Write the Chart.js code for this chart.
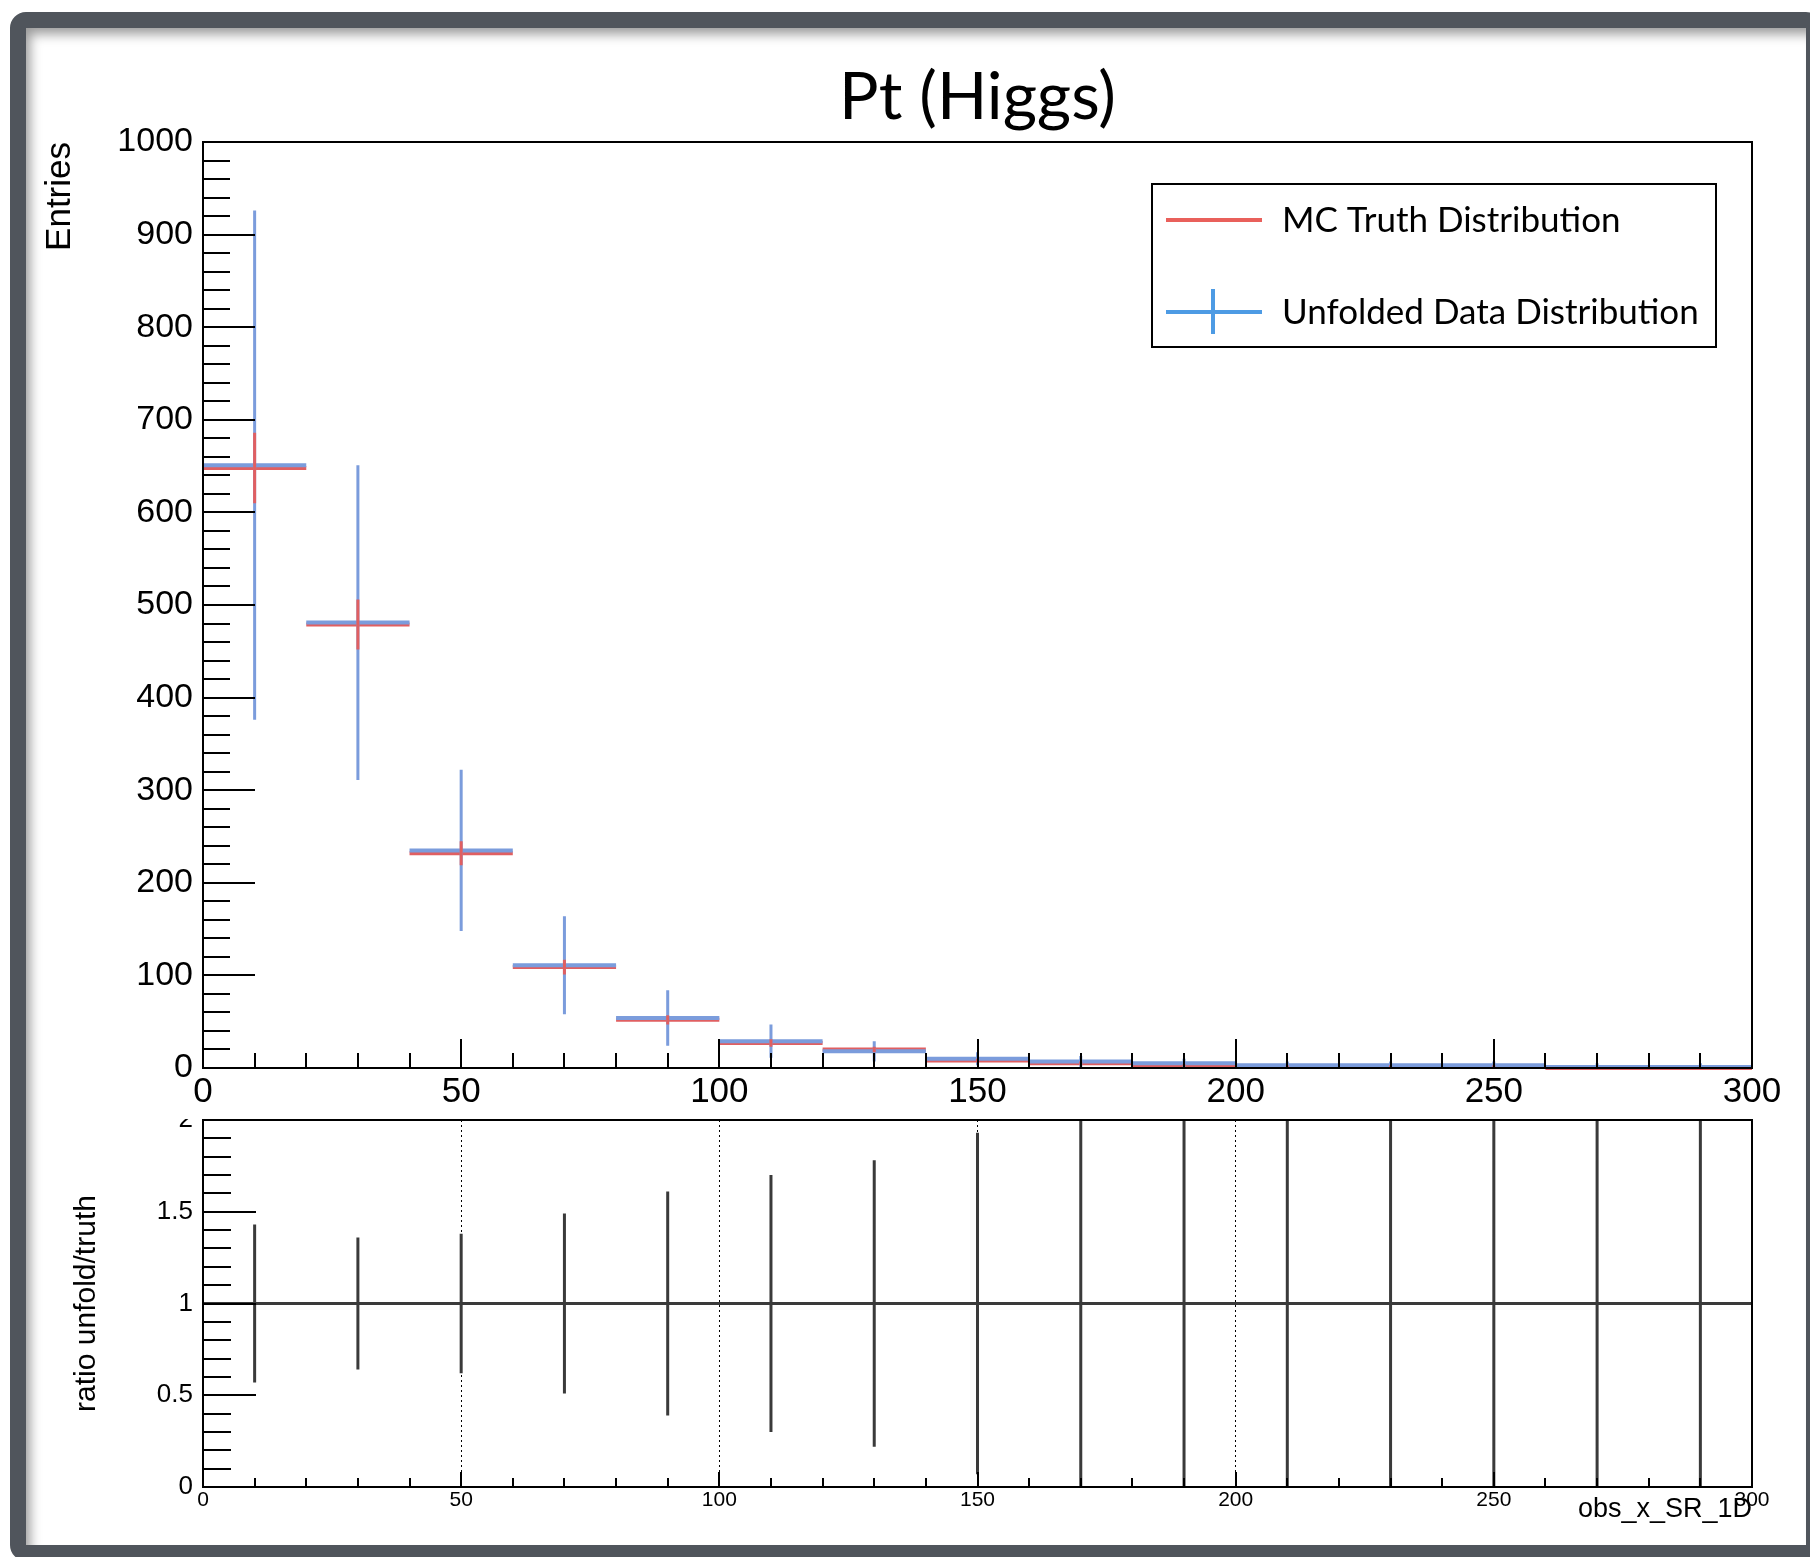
<!DOCTYPE html>
<html>
<head>
<meta charset="utf-8">
<title>Pt (Higgs)</title>
<script src="https://cdn.jsdelivr.net/npm/chart.js@4.4.1/dist/chart.umd.min.js"></script>
<style>
  html, body { margin: 0; padding: 0; background: #fff; }
  body { width: 1810px; height: 1557px; overflow: hidden; position: relative; }
  .frame {
    position: absolute; left: 10px; top: 12px; width: 1812px; height: 1549px;
    box-sizing: border-box; border: 16px solid #50555c; border-radius: 16px;
    background: #fff; box-shadow: inset 7px 9px 12px -3px rgba(0, 0, 0, 0.4);
  }
  canvas { position: absolute; left: 0; }
  #topChart { top: 0; }
  #ratioChart { top: 1119px; }
</style>
</head>
<body>
<div class="frame"></div>
<canvas id="topChart" width="1810" height="1119"></canvas>
<canvas id="ratioChart" width="1810" height="438"></canvas>
<script>
// bins of 20 GeV from 0 to 300
const BIN_CENTERS = [10, 30, 50, 70, 90, 110, 130, 150, 170, 190, 210, 230, 250, 270, 290];
const BIN_HALF_WIDTH = 10;

const TRUTH = [648, 479, 232, 109, 52, 27, 20, 8, 5, 3, 2, 2, 2, 0, 0];
const TRUTH_ERR = [38, 27, 13, 8, 5, 4, 3, 2, 2, 1, 1, 1, 1, 1, 1];
const UNFOLDED = [651, 481, 235, 111, 54, 29, 18, 10, 7, 5, 3, 3, 3, 1, 1];
const UNFOLDED_ERR = [275, 170, 87, 53, 30, 18, 11, 7, 6, 5, 4, 4, 4, 4, 4];

const RATIO = [1, 1, 1, 1, 1, 1, 1, 1, 1, 1, 1, 1, 1, 1, 1];
const RATIO_ERR = [0.43, 0.36, 0.38, 0.49, 0.61, 0.70, 0.78, 0.93, 1.2, 1.4, 1.6, 1.7, 1.7, 2.5, 2.5];

const LEGEND_LABELS = ["MC Truth Distribution", "Unfolded Data Distribution"];
const TITLE = "Pt (Higgs)";

const RED = "#e05f61";
const BLUE = "#7b9cdc";
const RATIO_GREY = "#3a3a3a";
const LEGEND_RED = "#e9605b";
const LEGEND_BLUE = "#4d9be4";
const AXIS_FONT = "'Liberation Sans', Arial, sans-serif";
const TITLE_FONT = "Lato, 'Noto Sans', sans-serif";

// horizontal bar across each bin, broken between bins
function binSegments(values) {
  const pts = [];
  BIN_CENTERS.forEach((c, i) => {
    pts.push({ x: c - BIN_HALF_WIDTH, y: values[i] });
    pts.push({ x: c + BIN_HALF_WIDTH, y: values[i] });
    pts.push({ x: c + BIN_HALF_WIDTH, y: null });
  });
  return pts;
}

// vertical error bar at each bin centre
function errorSegments(values, errors) {
  const pts = [];
  BIN_CENTERS.forEach((c, i) => {
    pts.push({ x: c, y: values[i] - errors[i] });
    pts.push({ x: c, y: values[i] + errors[i] });
    pts.push({ x: c, y: null });
  });
  return pts;
}

function lineSet(label, data, color, width, order, clip) {
  return {
    label: label,
    data: data,
    borderColor: color,
    backgroundColor: color,
    borderWidth: width,
    pointRadius: 0,
    pointHoverRadius: 0,
    fill: false,
    tension: 0,
    spanGaps: false,
    order: order,
    clip: clip,
  };
}

// ROOT style ticks drawn inward from the axes, plus the closed frame
const rootAxes = {
  id: "rootAxes",
  afterDraw(chart, args, opts) {
    const { ctx, chartArea: a, scales } = chart;
    const x = scales.x;
    const y = scales.y;
    ctx.save();
    ctx.strokeStyle = "#000";
    ctx.lineWidth = 2;
    ctx.beginPath();
    const nx = Math.round((x.max - x.min) / opts.xMinor);
    const perMajorX = Math.round(opts.xMajor / opts.xMinor);
    for (let i = 1; i < nx; i++) {
      const px = Math.round(x.getPixelForValue(x.min + i * opts.xMinor));
      const len = i % perMajorX === 0 ? opts.xLen[1] : opts.xLen[0];
      ctx.moveTo(px, a.bottom);
      ctx.lineTo(px, a.bottom - len);
    }
    const ny = Math.round((y.max - y.min) / opts.yMinor);
    const perMajorY = Math.round(opts.yMajor / opts.yMinor);
    for (let i = 1; i < ny; i++) {
      const py = Math.round(y.getPixelForValue(y.min + i * opts.yMinor));
      const len = i % perMajorY === 0 ? opts.yLen[1] : opts.yLen[0];
      ctx.moveTo(a.left, py);
      ctx.lineTo(a.left + len, py);
    }
    ctx.stroke();
    ctx.strokeRect(a.left, a.top, a.right - a.left, a.bottom - a.top);
    ctx.restore();
  },
};

// boxed legend in the upper right, like the ROOT TLegend
const boxLegend = {
  id: "boxLegend",
  afterDraw(chart, args, opts) {
    if (!opts.show) return;
    const { ctx, chartArea: a } = chart;
    const right = a.right - 36;
    const top = a.top + 42;
    const width = 564;
    const height = 163;
    const left = right - width;

    ctx.save();
    ctx.lineWidth = 2;
    ctx.strokeStyle = "#000";
    ctx.strokeRect(left, top, width, height);

    const rowY = [top + 36, top + 128];
    ctx.lineWidth = 4;
    ctx.strokeStyle = LEGEND_RED;
    ctx.beginPath();
    ctx.moveTo(left + 14, rowY[0]);
    ctx.lineTo(left + 110, rowY[0]);
    ctx.stroke();

    ctx.strokeStyle = LEGEND_BLUE;
    ctx.beginPath();
    ctx.moveTo(left + 14, rowY[1]);
    ctx.lineTo(left + 110, rowY[1]);
    ctx.moveTo(left + 61, rowY[1] - 23);
    ctx.lineTo(left + 61, rowY[1] + 22);
    ctx.stroke();

    ctx.fillStyle = "#000";
    ctx.font = "35px " + TITLE_FONT;
    ctx.textAlign = "left";
    ctx.textBaseline = "middle";
    LEGEND_LABELS.forEach((label, i) => {
      ctx.fillText(label, left + 130, rowY[i] + 1);
    });
    ctx.restore();
  },
};

const plainNumber = (v) => String(v);

// upper pad: MC truth vs unfolded data
new Chart(document.getElementById("topChart").getContext("2d"), {
  type: "line",
  data: {
    datasets: [
      lineSet("truth errors", errorSegments(TRUTH, TRUTH_ERR), RED, 3, 0, undefined),
      lineSet("unfolded errors", errorSegments(UNFOLDED, UNFOLDED_ERR), BLUE, 3, 1, undefined),
      lineSet(LEGEND_LABELS[1], binSegments(UNFOLDED), BLUE, 4, 2, undefined),
      lineSet(LEGEND_LABELS[0], binSegments(TRUTH), RED, 4, 3, { left: 0, top: 0, right: 0, bottom: 3 }),
    ],
  },
  options: {
    responsive: false,
    animation: false,
    events: [],
    layout: { padding: { left: 0, right: 58, top: 0, bottom: 0 } },
    scales: {
      x: {
        type: "linear",
        min: 0,
        max: 300,
        grid: { display: false, drawTicks: false },
        border: { display: true, color: "#000", width: 2 },
        ticks: {
          stepSize: 50,
          padding: 3,
          maxRotation: 0,
          color: "#000",
          font: { family: AXIS_FONT, size: 35 },
          callback: plainNumber,
        },
        afterFit: (s) => {
          s.height = 51;
        },
      },
      y: {
        type: "linear",
        min: 0,
        max: 1000,
        grid: { display: false, drawTicks: false },
        border: { display: true, color: "#000", width: 2 },
        ticks: {
          stepSize: 100,
          padding: 10,
          color: "#000",
          font: { family: AXIS_FONT, size: 34 },
          callback: plainNumber,
        },
        title: {
          display: true,
          text: "Entries",
          align: "end",
          color: "#000",
          font: { family: AXIS_FONT, size: 35, lineHeight: 1.2 },
          padding: { top: 39, bottom: 0 },
        },
        afterFit: (s) => {
          s.width = 203;
        },
      },
    },
    plugins: {
      legend: { display: false },
      tooltip: { enabled: false },
      title: {
        display: true,
        fullSize: false,
        text: TITLE,
        color: "#000",
        font: { family: TITLE_FONT, size: 66, weight: "normal", lineHeight: 1.2 },
        padding: { top: 58, bottom: 4.8 },
      },
      rootAxes: { xMinor: 10, xMajor: 50, yMinor: 20, yMajor: 100, xLen: [15, 29], yLen: [27, 52] },
      boxLegend: { show: true },
    },
  },
  plugins: [rootAxes, boxLegend],
});

// lower pad: ratio unfolded / truth
new Chart(document.getElementById("ratioChart").getContext("2d"), {
  type: "line",
  data: {
    datasets: [
      lineSet("ratio errors", errorSegments(RATIO, RATIO_ERR), RATIO_GREY, 3, 0, 0),
      lineSet("ratio", binSegments(RATIO), RATIO_GREY, 3, 1, 0),
    ],
  },
  options: {
    responsive: false,
    animation: false,
    events: [],
    layout: { padding: { left: 0, right: 58, top: 1, bottom: 0 } },
    scales: {
      x: {
        type: "linear",
        min: 0,
        max: 300,
        grid: { display: true, drawTicks: false, color: "#000", lineWidth: 1 },
        border: { display: true, color: "#000", width: 2, dash: [2, 3] },
        ticks: {
          stepSize: 50,
          padding: 1,
          maxRotation: 0,
          color: "#000",
          font: { family: AXIS_FONT, size: 21 },
          callback: plainNumber,
        },
        title: {
          display: true,
          text: "obs_x_SR_1D",
          align: "end",
          color: "#000",
          font: { family: AXIS_FONT, size: 27, lineHeight: 1.2 },
          padding: { top: 0, bottom: 31 },
        },
        afterFit: (s) => {
          s.height = 70;
        },
      },
      y: {
        type: "linear",
        min: 0,
        max: 2,
        grid: { display: false, drawTicks: false },
        border: { display: true, color: "#000", width: 2 },
        ticks: {
          stepSize: 0.5,
          padding: 10,
          color: "#000",
          font: { family: AXIS_FONT, size: 26 },
          callback: plainNumber,
        },
        title: {
          display: true,
          text: "ratio unfold/truth",
          align: "center",
          color: "#000",
          font: { family: AXIS_FONT, size: 30, lineHeight: 1.2 },
          padding: { top: 69, bottom: 0 },
        },
        afterFit: (s) => {
          s.width = 203;
          // let the top label run off the canvas like in the original pad
          s.paddingTop = 0;
          s.paddingBottom = 0;
        },
      },
    },
    plugins: {
      legend: { display: false },
      tooltip: { enabled: false },
      title: { display: false },
      rootAxes: { xMinor: 10, xMajor: 50, yMinor: 0.1, yMajor: 0.5, xLen: [9, 15], yLen: [28, 53] },
      boxLegend: { show: false },
    },
  },
  plugins: [rootAxes, boxLegend],
});
</script>
</body>
</html>
